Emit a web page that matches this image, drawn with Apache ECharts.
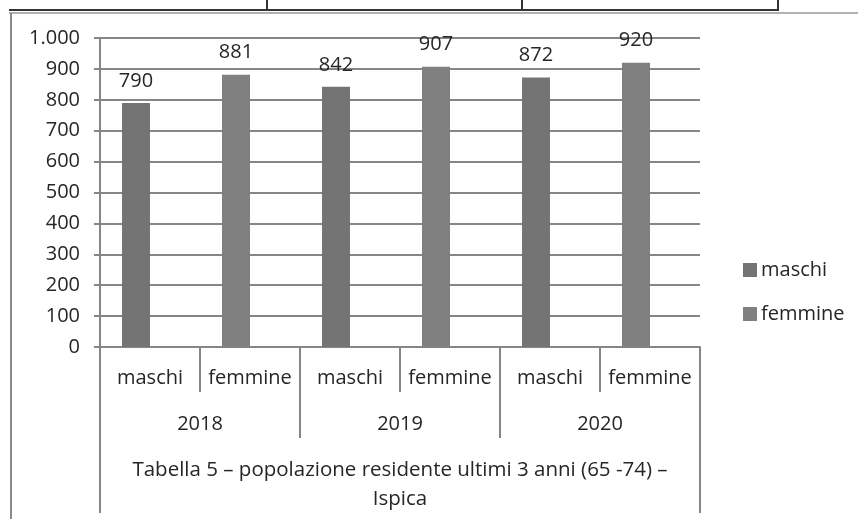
<!DOCTYPE html>
<html>
<head>
<meta charset="utf-8">
<script src="https://cdn.jsdelivr.net/npm/echarts@6/dist/echarts.min.js"></script>
<style>
  html, body { margin: 0; padding: 0; background: #fff; }
  #chart { width: 858px; height: 519px; }
</style>
</head>
<body>
<div id="chart"></div>
<script>
/* global echarts */
// dati del grafico
var categorie = ['maschi', 'femmine', 'maschi', 'femmine', 'maschi', 'femmine'];
var anni = ['2018', '2019', '2020'];
var didascalia = ['Tabella 5 – popolazione residente ultimi 3 anni (65 -74) –\nIspica'];
var maschi = [790, '-', 842, '-', 872, '-'];
var femmine = ['-', 881, '-', 907, '-', 920];
var serieNomi = ['maschi', 'femmine'];

var FONT = 'Open Sans';
var TXT = '#262626';
var LINEA = '#868686';

var myChart = echarts.init(document.getElementById('chart'));

var option = {
    animation: false,
    backgroundColor: '#fff',
    textStyle: { fontFamily: FONT },
    grid: { left: 100, right: 158, top: 38, bottom: 172 },
    legend: {
        data: serieNomi,
        orient: 'vertical',
        left: 738, top: 255,
        itemWidth: 14, itemHeight: 14, itemGap: 24,
        icon: 'rect',
        textStyle: { fontFamily: FONT, fontSize: 20, color: TXT, padding: [0, 0, 0, -1] }
    },
    xAxis: [
        {
            type: 'category', data: categorie, position: 'bottom',
            axisLine: { show: true, lineStyle: { color: LINEA, width: 2 } },
            axisTick: { show: true, interval: 0, alignWithLabel: false, length: 45, lineStyle: { color: LINEA, width: 2 } },
            axisLabel: { interval: 0, margin: 21, fontSize: 20, color: TXT, fontFamily: FONT }
        },
        {
            type: 'category', data: anni, position: 'bottom', offset: 45,
            axisLine: { show: false },
            axisTick: { show: true, interval: 0, alignWithLabel: false, length: 46, lineStyle: { color: LINEA, width: 2 } },
            axisLabel: { interval: 0, margin: 22, fontSize: 20, color: TXT, fontFamily: FONT }
        },
        {
            type: 'category', data: didascalia, position: 'bottom', offset: 91,
            axisLine: { show: false },
            axisTick: { show: true, interval: 0, alignWithLabel: false, length: 75, lineStyle: { color: LINEA, width: 2 } },
            axisLabel: { interval: 0, margin: 18, fontSize: 20.5, lineHeight: 29, color: TXT, fontFamily: FONT }
        }
    ],
    yAxis: {
        type: 'value', min: 0, max: 1000, interval: 100,
        axisLine: { show: true, lineStyle: { color: LINEA, width: 2 } },
        axisTick: { show: true, length: 6, lineStyle: { color: LINEA, width: 2 } },
        splitLine: { lineStyle: { color: LINEA, width: 2 } },
        axisLabel: {
            margin: 20, fontSize: 20, color: TXT, fontFamily: FONT,
            formatter: function (v) { return v >= 1000 ? (v / 1000) + '.000' : v; }
        }
    },
    series: [
        {
            name: 'maschi', type: 'bar', stack: 'a', data: maschi,
            barWidth: 28, barGap: '0%',
            itemStyle: { color: '#747474' },
            label: { show: true, position: 'top', distance: 12, fontSize: 20, color: TXT, fontFamily: FONT }
        },
        {
            name: 'femmine', type: 'bar', stack: 'a', data: femmine,
            barWidth: 28, barGap: '0%',
            itemStyle: { color: '#808080' },
            label: { show: true, position: 'top', distance: 12, fontSize: 20, color: TXT, fontFamily: FONT }
        },
        {
            // slot vuoto a destra, come nel grafico originale
            name: 'vuoto', type: 'bar', stack: 'b', data: [],
            barWidth: 28, barGap: '0%'
        }
    ],
    graphic: [
        { type: 'line', shape: { x1: 9, y1: 10, x2: 779, y2: 10 }, style: { stroke: '#333', lineWidth: 2 } },
        { type: 'line', shape: { x1: 267, y1: 0, x2: 267, y2: 10 }, style: { stroke: '#333', lineWidth: 2 } },
        { type: 'line', shape: { x1: 522, y1: 0, x2: 522, y2: 10 }, style: { stroke: '#333', lineWidth: 2 } },
        { type: 'line', shape: { x1: 778, y1: 0, x2: 778, y2: 10 }, style: { stroke: '#333', lineWidth: 2 } },
        { type: 'line', shape: { x1: 9, y1: 13, x2: 858, y2: 13 }, style: { stroke: '#999', lineWidth: 1.5 } },
        { type: 'line', shape: { x1: 11, y1: 13, x2: 11, y2: 519 }, style: { stroke: '#8a8a8a', lineWidth: 2 } }
    ]
};
myChart.setOption(option);
</script>
</body>
</html>
